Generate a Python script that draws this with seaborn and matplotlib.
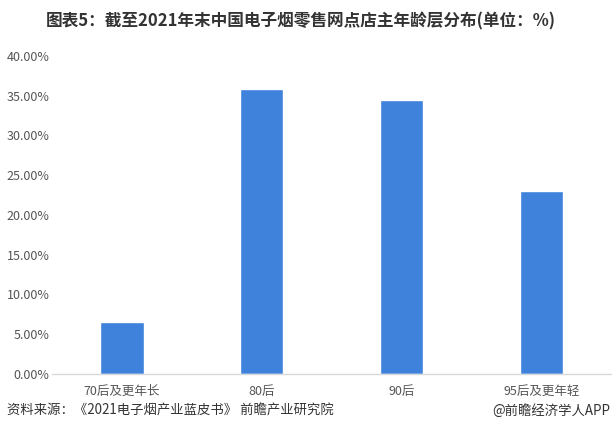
import numpy as np
import pandas as pd
import seaborn as sns
import matplotlib.pyplot as plt
from matplotlib.ticker import FuncFormatter

categories = ["70后及更年长", "80后", "90后", "95后及更年轻"]
shares = [6.5, 35.8, 34.5, 23.0]
y_ticks = [0, 5, 10, 15, 20, 25, 30, 35, 40]

df = pd.DataFrame({"group": categories, "share": shares})

sns.set_theme(style="white")
plt.rcParams['font.family'] = ['Noto Sans CJK SC', 'DejaVu Sans']

fig = plt.figure(figsize=(6.13, 4.41), dpi=100)
ax = fig.add_axes([0.085, 0.152, 0.912, 0.721])

sns.barplot(data=df, x="group", y="share", color="#3E82DC", width=0.31,
            saturation=1, ax=ax)

ax.set_xlim(-0.5, 3.5)
ax.set_ylim(0, 40)
ax.set_yticks(y_ticks)
ax.yaxis.set_major_formatter(FuncFormatter(lambda v, p: "%.2f%%" % v))
ax.set_xlabel("")
ax.set_ylabel("")
ax.tick_params(axis="both", length=0, labelsize=9, colors="#555555")
ax.tick_params(axis="x", pad=8)
ax.tick_params(axis="y", pad=2)
for s in ["top", "right", "left"]:
    ax.spines[s].set_visible(False)
ax.spines["bottom"].set_color("#d9d9d9")
ax.spines["bottom"].set_linewidth(1)

fig.text(0.49, 0.952, "图表5：截至2021年末中国电子烟零售网点店主年龄层分布(单位：%)",
         ha="center", va="center", fontsize=12, fontweight="bold", color="#333333")
fig.text(0.012, 0.068, "资料来源：《2021电子烟产业蓝皮书》 前瞻产业研究院",
         ha="left", va="center", fontsize=9.6, color="#333333")
fig.text(0.995, 0.068, "@前瞻经济学人APP",
         ha="right", va="center", fontsize=9.6, color="#333333")

fig.savefig("out.png", dpi=100)
